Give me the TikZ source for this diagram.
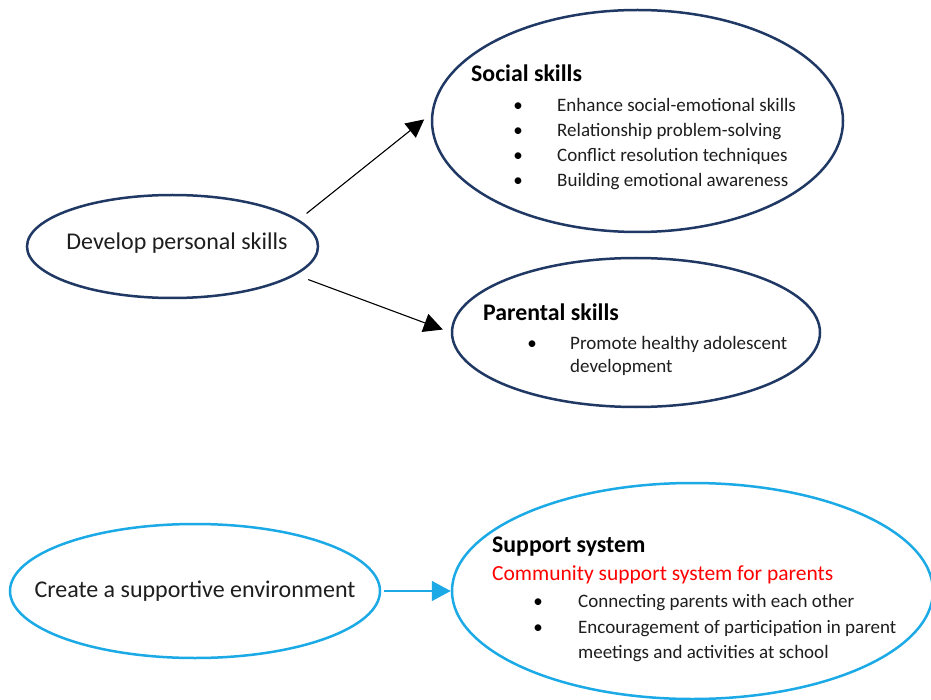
\documentclass[tikz,border=0pt]{standalone}
\usepackage{fontspec}
\setmainfont{Carlito}
\usetikzlibrary{shapes.geometric,arrows.meta}
\definecolor{navy}{RGB}{32,56,100}
\definecolor{skyb}{RGB}{28,170,230}
\definecolor{txt}{RGB}{30,30,30}
\definecolor{redt}{RGB}{255,0,0}
\begin{document}
\begin{tikzpicture}[x=1pt,y=-1pt,
  ell/.style={ellipse,draw=navy,line width=2.5pt,inner sep=0pt},
  bell/.style={ellipse,draw=skyb,line width=2.5pt,inner sep=0pt},
  lbl/.style={anchor=base west,inner sep=0pt,text=txt,font=\fontsize{19}{23}\selectfont},
  bul/.style={anchor=base,inner sep=0pt,text=black,font=\fontsize{19}{23}\selectfont},
  head/.style={anchor=base west,inner sep=0pt,text=black,font=\fontsize{23.8}{27}\bfseries},
  big/.style={anchor=base,inner sep=0pt,text=txt,font=\fontsize{24}{28}\selectfont},
  redl/.style={anchor=base west,inner sep=0pt,text=redt,font=\fontsize{21.5}{25}\selectfont},
  arr/.style={draw=black,line width=1.1pt}]
\useasboundingbox (0,0) rectangle (931,700);
\fill[white] (0,0) rectangle (931,700);

% ellipses
\node[ell,minimum width=291pt,minimum height=103pt] (dev) at (172.5,246.5) {};
\node[ell,minimum width=411pt,minimum height=222pt] (soc) at (637.5,121) {};
\node[ell,minimum width=368pt,minimum height=149pt] (par) at (636,332.5) {};
\node[bell,minimum width=370pt,minimum height=134pt] (cre) at (195,591) {};
\node[bell,minimum width=481pt,minimum height=216pt] (sup) at (692.5,591) {};

% texts
\node[big] (devt) at (177,250) {Develop personal skills};
\node[big] (cret) at (195,597) {Create a supportive environment};

\node[head] (soch) at (471,82) {Social skills};
\node[bul] (sb1) at (518,112) {•};
\node[bul] (sb2) at (518,137) {•};
\node[bul] (sb3) at (518,162) {•};
\node[bul] (sb4) at (518,187) {•};
\node[lbl] (st1) at (557,112) {Enhance social-emotional skills};
\node[lbl] (st2) at (557,137) {Relationship problem-solving};
\node[lbl] (st3) at (557,162) {Conflict resolution techniques};
\node[lbl] (st4) at (557,187) {Building emotional awareness};

\node[head] (parh) at (483,321) {Parental skills};
\node[bul] (pb1) at (532,349) {•};
\node[lbl] (pt1) at (570,349) {Promote healthy adolescent};
\node[lbl] (pt2) at (570,372) {development};

\node[head] (suph) at (492,552) {Support system};
\node[redl] (supr) at (492,580) {Community support system for parents};
\node[bul] (ub1) at (538,607) {•};
\node[bul] (ub2) at (538,633) {•};
\node[lbl] (ut1) at (578,607) {Connecting parents with each other};
\node[lbl] (ut2) at (578,633) {Encouragement of participation in parent};
\node[lbl] (ut3) at (578,658) {meetings and activities at school};

% connectors
\draw[arr,-{Triangle[length=18pt,width=18pt]},shorten <=10pt,shorten >=9pt] (dev.12) -- (soc.178);
\draw[arr,-{Triangle[length=19pt,width=19pt]},shorten <=13pt,shorten >=8.5pt] (dev.-13.6) -- (par.180);
\draw[draw=skyb,line width=1.5pt,-{Triangle[length=19pt,width=20pt]},shorten <=3pt] (cre.east) -- (sup.west);
\end{tikzpicture}
\end{document}
